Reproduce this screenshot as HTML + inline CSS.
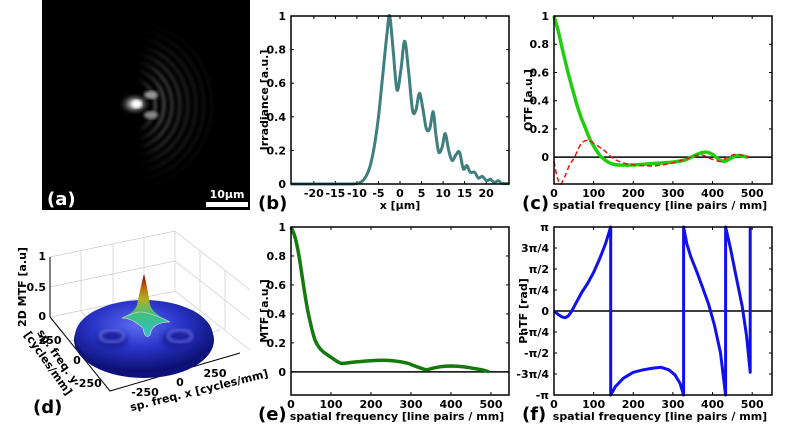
<!DOCTYPE html>
<html><head><meta charset="utf-8">
<style>
html,body{margin:0;padding:0;background:#fff;}
svg{display:block;font-family:"DejaVu Sans","Liberation Sans",sans-serif;font-weight:bold;}
</style></head>
<body>
<svg id="fig" width="800" height="427" viewBox="0 0 800 427" xmlns="http://www.w3.org/2000/svg">
<defs>
  <radialGradient id="spot" cx="50%" cy="50%" r="50%">
    <stop offset="0" stop-color="#fff" stop-opacity="1"/>
    <stop offset="0.35" stop-color="#ccc" stop-opacity="0.7"/>
    <stop offset="1" stop-color="#000" stop-opacity="0"/>
  </radialGradient>
  <filter id="blur1"><feGaussianBlur stdDeviation="1.6"/></filter>
  <filter id="blur2"><feGaussianBlur stdDeviation="2.5"/></filter>
  <radialGradient id="ringfade" gradientUnits="userSpaceOnUse" cx="170" cy="105" r="90" fx="170" fy="105" gradientTransform="translate(170,105) scale(0.8,1) translate(-170,-105)">
    <stop offset="0" stop-color="#fff"/>
    <stop offset="0.55" stop-color="#fff"/>
    <stop offset="1" stop-color="#000"/>
  </radialGradient>
  <linearGradient id="leftfade" gradientUnits="userSpaceOnUse" x1="138" y1="0" x2="162" y2="0">
    <stop offset="0" stop-color="#000"/>
    <stop offset="1" stop-color="#fff"/>
  </linearGradient>
  <mask id="ringmask1"><rect x="42" y="0" width="208" height="210" fill="url(#ringfade)"/></mask>
  <mask id="ringmask2"><rect x="42" y="0" width="208" height="210" fill="url(#leftfade)"/></mask>
  <radialGradient id="diskg" cx="45%" cy="35%" r="65%">
    <stop offset="0" stop-color="#5a6cf0"/>
    <stop offset="0.5" stop-color="#2a34c8"/>
    <stop offset="1" stop-color="#0a0f70"/>
  </radialGradient>
  <linearGradient id="peakg" x1="0" y1="1" x2="0" y2="0">
    <stop offset="0" stop-color="#30c0d0"/>
    <stop offset="0.35" stop-color="#40c080"/>
    <stop offset="0.6" stop-color="#b0b020"/>
    <stop offset="0.8" stop-color="#c06010"/>
    <stop offset="1" stop-color="#700000"/>
  </linearGradient>
</defs>

<!-- Panel (a) -->
<g>
  <rect x="42" y="0" width="208" height="210" fill="#000"/>
  <g mask="url(#ringmask2)"><g mask="url(#ringmask1)">
  <g filter="url(#blur1)">
    <circle cx="128" cy="105" r="27" fill="none" stroke="#bbb" stroke-width="3" stroke-opacity="0.6"/>
    <circle cx="128" cy="105" r="36" fill="none" stroke="#999" stroke-width="3" stroke-opacity="0.5"/>
    <circle cx="128" cy="105" r="44" fill="none" stroke="#888" stroke-width="3" stroke-opacity="0.45"/>
    <circle cx="128" cy="105" r="52" fill="none" stroke="#777" stroke-width="3" stroke-opacity="0.38"/>
    <circle cx="128" cy="105" r="60" fill="none" stroke="#666" stroke-width="3" stroke-opacity="0.32"/>
    <circle cx="128" cy="105" r="68" fill="none" stroke="#555" stroke-width="3" stroke-opacity="0.28"/>
    <circle cx="128" cy="105" r="76" fill="none" stroke="#444" stroke-width="3" stroke-opacity="0.24"/>
    <circle cx="128" cy="105" r="84" fill="none" stroke="#333" stroke-width="3" stroke-opacity="0.2"/>
  </g></g></g>
  <ellipse cx="151" cy="95" rx="7" ry="4" fill="#999" filter="url(#blur1)"/>
  <ellipse cx="151" cy="115" rx="7" ry="4" fill="#888" filter="url(#blur1)"/>
  <ellipse cx="135" cy="104" rx="17" ry="12" fill="url(#spot)"/>
  <ellipse cx="137" cy="104" rx="5" ry="4" fill="#fff" filter="url(#blur1)"/>
  <rect x="206" y="202" width="42" height="5" fill="#fff"/>
  <text x="227" y="198" font-size="11" fill="#fff" text-anchor="middle">10μm</text>
  <text x="47" y="205" font-size="18" fill="#fff">(a)</text>
</g>

<!-- Panel (d) 3D -->
<g>
  <g stroke="#ccc" stroke-width="0.7" fill="none">
    <polyline points="50,257 175,231 250,290"/>
    <polyline points="50,317 175,291 250,350"/>
    <line x1="175" y1="231" x2="175" y2="291"/>
    <line x1="81" y1="251" x2="81" y2="311"/>
    <line x1="113" y1="244" x2="113" y2="304"/>
    <line x1="144" y1="237" x2="144" y2="297"/>
    <line x1="200" y1="251" x2="200" y2="311"/>
    <line x1="225" y1="270" x2="225" y2="330"/>
    <polyline points="50,287 175,261 250,320"/>
    <line x1="81" y1="311" x2="140" y2="383"/>
    <line x1="113" y1="304" x2="172" y2="373"/>
    <line x1="144" y1="297" x2="205" y2="363"/>
    <line x1="70" y1="341" x2="195" y2="310"/>
    <line x1="90" y1="366" x2="220" y2="330"/>
  </g>
  <line x1="50" y1="257" x2="50" y2="317" stroke="#000" stroke-width="1"/>
  <polyline points="50,317 110,391 240,353" fill="none" stroke="#000" stroke-width="1"/>
  <ellipse cx="144" cy="340" rx="70" ry="38" fill="#0c127a"/>
  <ellipse cx="144" cy="336" rx="69" ry="36" fill="url(#diskg)"/>
  <ellipse cx="112" cy="340" rx="16" ry="10" fill="#1a20a0" filter="url(#blur2)"/>
  <ellipse cx="178" cy="340" rx="16" ry="10" fill="#1a20a0" filter="url(#blur2)"/>
  <ellipse cx="112" cy="336" rx="12" ry="6" fill="none" stroke="#8a96ff" stroke-width="1.5" filter="url(#blur1)"/>
  <ellipse cx="180" cy="336" rx="12" ry="6" fill="none" stroke="#8a96ff" stroke-width="1.5" filter="url(#blur1)"/>
  <path d="M122,318 Q135,312 137,305 Q141,285 144,274 Q147,285 150,305 Q153,314 170,322 Q152,322 150,335 Q145,340 143,328 Q132,318 122,318 Z" fill="url(#peakg)"/>
  <path d="M122,318 Q135,312 140,312 Q150,312 170,322 Q152,322 150,335 Q145,340 143,328 Q132,318 122,318 Z" fill="none" stroke="#ccc" stroke-width="0.8"/>
  <text x="46" y="260" font-size="11" text-anchor="end">1</text>
  <text x="46" y="291" font-size="11" text-anchor="end">0.5</text>
  <text x="46" y="320" font-size="11" text-anchor="end">0</text>
  <text transform="translate(26,287) rotate(-90)" font-size="11" text-anchor="middle">2D MTF [a.u]</text>
  <text x="50" y="344" font-size="11" text-anchor="middle">250</text>
  <text x="77" y="364" font-size="11" text-anchor="middle">0</text>
  <text x="88" y="387" font-size="11" text-anchor="middle">-250</text>
  <text transform="translate(50,362) rotate(55)" font-size="11" text-anchor="middle"><tspan x="0" dy="-6">sp. freq. y</tspan><tspan x="0" dy="12">[cycles/mm]</tspan></text>
  <text x="145" y="396" font-size="11" text-anchor="middle">-250</text>
  <text x="180" y="386" font-size="11" text-anchor="middle">0</text>
  <text x="215" y="377" font-size="11" text-anchor="middle">250</text>
  <text transform="translate(200,394) rotate(-14)" font-size="11" text-anchor="middle">sp. freq. x [cycles/mm]</text>
  <text x="33" y="413" font-size="18">(d)</text>
</g>

<g id="plots"></g>
</svg>

<script>
// ---- Panel (b) irradiance ----
const irrX = [-25.3,-12,-10,-9,-8,-7,-6,-5,-4,-3,-2.4,-1.6,-0.7,0.2,1.1,2.0,2.9,3.7,4.5,5.3,6.1,6.9,7.7,8.3,9.0,9.8,10.5,11.3,12.1,12.9,13.8,14.7,15.5,16.3,17.3,18.2,19.1,20.1,21.0,21.9,22.8,23.6,25.3];
const irrY = [0,0,0.003,0.012,0.04,0.1,0.22,0.4,0.65,0.9,1.0,0.8,0.56,0.68,0.85,0.67,0.44,0.44,0.54,0.45,0.33,0.33,0.43,0.3,0.19,0.22,0.3,0.2,0.14,0.17,0.19,0.09,0.11,0.07,0.07,0.035,0.045,0.02,0.028,0.008,0.02,0.004,0.002];
const irrXTicks = [-20,-15,-10,-5,0,5,10,15,20];
const irrYTicks = [0,0.2,0.4,0.6,0.8,1];
// ---- Panel (c) OTF ----
const otfX = [0,10,20,30,40,50,60,70,80,90,100,110,120,140,160,200,250,300,330,350,370,385,400,415,430,445,460,475,490];
const otfRe = [1,0.9,0.78,0.66,0.55,0.45,0.35,0.27,0.2,0.13,0.08,0.035,0,-0.04,-0.055,-0.055,-0.045,-0.035,-0.02,0.005,0.03,0.035,0.02,-0.015,-0.03,-0.01,0.01,0.008,0];
const otfImX = [0,7,15,22,30,40,50,60,70,85,100,115,130,150,180,220,260,300,330,355,375,390,405,420,435,450,465,480,490];
const otfIm = [-0.03,-0.13,-0.19,-0.17,-0.12,-0.05,-0.01,0.05,0.1,0.12,0.1,0.07,0.04,-0.01,-0.045,-0.06,-0.06,-0.04,-0.015,0.01,0.015,-0.005,-0.02,-0.03,-0.005,0.015,0.02,0.01,0];
const otfXTicks = [0,100,200,300,400,500];
const otfYTicks = [0,0.2,0.4,0.6,0.8,1];
// ---- Panel (e) MTF ----
const mtfX = [0,10,20,30,40,50,60,70,80,100,120,130,160,200,230,260,290,310,330,340,355,375,400,430,460,480,495];
const mtfY = [1,0.93,0.8,0.62,0.45,0.32,0.22,0.17,0.14,0.1,0.065,0.058,0.068,0.077,0.08,0.075,0.06,0.04,0.02,0.015,0.025,0.036,0.04,0.035,0.022,0.012,0];
const mtfXTicks = [0,100,200,300,400,500];
const mtfYTicks = [0,0.2,0.4,0.6,0.8,1];
// ---- Panel (f) PhTF (units of pi) ----
const phX = [0,10,20,28,36,45,55,70,85,100,115,130,143,143,155,175,200,225,250,270,290,305,318,327,327,335,345,360,375,390,405,420,433,433,445,460,475,486,495,495];
const phY = [0,-0.04,-0.07,-0.08,-0.06,0,0.09,0.22,0.33,0.46,0.62,0.8,1,-1,-0.9,-0.8,-0.73,-0.7,-0.68,-0.67,-0.7,-0.76,-0.86,-1,1,0.8,0.65,0.47,0.28,0.08,-0.17,-0.5,-1,1,0.75,0.4,0.05,-0.3,-0.73,1];
const phXTicks = [0,100,200,300,400,500];
const phYTicks = [-1,-0.75,-0.5,-0.25,0,0.25,0.5,0.75,1];
const phYLabels = ["-π","-3π/4","-π/2","-π/4","0","π/4","π/2","3π/4","π"];

const NS = "http://www.w3.org/2000/svg";
const root = document.getElementById('plots');
function mk(tag, attrs, parent){
  const e = document.createElementNS(NS, tag);
  for (const k in attrs) e.setAttribute(k, attrs[k]);
  (parent||root).appendChild(e);
  return e;
}
function smoothPath(pts){
  let d = "M" + pts[0][0].toFixed(1) + "," + pts[0][1].toFixed(1);
  for (let i=0;i<pts.length-1;i++){
    const p0 = pts[Math.max(0,i-1)], p1 = pts[i], p2 = pts[i+1], p3 = pts[Math.min(pts.length-1,i+2)];
    const c1x = p1[0] + (p2[0]-p0[0])/6, c1y = p1[1] + (p2[1]-p0[1])/6;
    const c2x = p2[0] - (p3[0]-p1[0])/6, c2y = p2[1] - (p3[1]-p1[1])/6;
    d += " C" + c1x.toFixed(1)+","+c1y.toFixed(1)+" "+c2x.toFixed(1)+","+c2y.toFixed(1)+" "+p2[0].toFixed(1)+","+p2[1].toFixed(1);
  }
  return d;
}
function axes(cfg){
  const g = mk('g', {});
  
  
  const sx = v => cfg.x0 + (v - cfg.xmin)/(cfg.xmax - cfg.xmin)*(cfg.x1 - cfg.x0);
  const sy = v => cfg.y1 - (v - cfg.ymin)/(cfg.ymax - cfg.ymin)*(cfg.y1 - cfg.y0);
  cfg.xticks.forEach((t,i) => {
    const tx = mk('text', {x: sx(t), y: cfg.y1+13, 'font-size': 11, 'text-anchor':'middle'}, g);
    tx.textContent = t;
    
    
    mk('line', {x1:sx(t), x2:sx(t), y1:cfg.y1, y2:cfg.y1-3, stroke:'#000', 'stroke-width':1}, g);
    mk('line', {x1:sx(t), x2:sx(t), y1:cfg.y0, y2:cfg.y0+3, stroke:'#000', 'stroke-width':1}, g);
  });
  cfg.yticks.forEach((t,i) => {
    const ty = mk('text', {x: cfg.x0-5, y: sy(t)+4, 'font-size': 11, 'text-anchor':'end'}, g);
    ty.textContent = cfg.ylabels ? cfg.ylabels[i] : t;
    
    
    mk('line', {x1:cfg.x0, x2:cfg.x0+3, y1:sy(t), y2:sy(t), stroke:'#000', 'stroke-width':1}, g);
    mk('line', {x1:cfg.x1, x2:cfg.x1-3, y1:sy(t), y2:sy(t), stroke:'#000', 'stroke-width':1}, g);
  });
  const xl = mk('text', {x: cfg.xlx, y: cfg.y1+25, 'font-size': 11, 'text-anchor':'middle'}, g);
  xl.textContent = cfg.xlabel;
  
  
  const yl = mk('text', {transform:'translate('+cfg.ylx+','+((cfg.y0+cfg.y1)/2)+') rotate(-90)', 'font-size': 11, 'text-anchor':'middle'}, g);
  yl.textContent = cfg.ylabel;
  
  
  const pl = mk('text', {x: cfg.plx, y: cfg.y1+25, 'font-size': 18}, g);
  pl.textContent = cfg.panel;
  
  
  if (cfg.zero){
    const z = mk('line', {x1:cfg.x0, x2:cfg.x1, y1:sy(0), y2:sy(0), stroke:'#000', 'stroke-width':1.5}, g);
    
    
  }
  return {g, sx, sy, cfg};
}
function frame(a){
  const c = a.cfg;
  const r = mk('rect', {x:c.x0, y:c.y0, width:c.x1-c.x0, height:c.y1-c.y0, fill:'none', stroke:'#000', 'stroke-width':1.5}, a.g);
  
  
}
function curve(a, xs, ys, style, name, smooth){
  const pts = xs.map((x,i) => [a.sx(x), a.sy(ys[i])]);
  const d = smooth ? smoothPath(pts) : "M" + pts.map(p => p[0].toFixed(1)+","+p[1].toFixed(1)).join(" L");
  const p = mk('path', Object.assign({d, fill:'none', 'stroke-linejoin':'round'}, style), a.g);
  
  
}

// (b)
const ab = axes({name:'panel-b-irradiance-plot', x0:291, x1:509, y0:16, y1:184, xmin:-25.3, xmax:25.3, ymin:0, ymax:1,
  xticks:irrXTicks, yticks:irrYTicks, xlabel:'x [μm]', ylabel:'Irradiance [a.u.]', xlx:400, ylx:268, plx:258, panel:'(b)'});
curve(ab, irrX, irrY, {stroke:'#3f7f7f', 'stroke-width':3}, 'irradiance-line', true);
frame(ab);

// (c)
const ac = axes({name:'panel-c-otf-plot', x0:554, x1:772, y0:16, y1:184, xmin:0, xmax:550, ymin:-0.19, ymax:1,
  xticks:otfXTicks, yticks:otfYTicks, xlabel:'spatial frequency [line pairs / mm]', ylabel:'OTF [a.u.]', xlx:660, ylx:532, plx:522, panel:'(c)', zero:true});
curve(ac, otfX, otfRe, {stroke:'#22cc11', 'stroke-width':3.5}, 'otf-real-line', true);
curve(ac, otfImX, otfIm, {stroke:'#ee1111', 'stroke-width':1.5, 'stroke-dasharray':'5,3'}, 'otf-imag-line', true);
frame(ac);

// (e)
const ae = axes({name:'panel-e-mtf-plot', x0:291, x1:509, y0:227, y1:395, xmin:0, xmax:545, ymin:-0.16, ymax:1,
  xticks:mtfXTicks, yticks:mtfYTicks, xlabel:'spatial frequency [line pairs / mm]', ylabel:'MTF [a.u.]', xlx:397, ylx:268, plx:258, panel:'(e)', zero:true});
curve(ae, mtfX, mtfY, {stroke:'#147a0e', 'stroke-width':3.5}, 'mtf-line', true);
frame(ae);

// (f)
const af = axes({name:'panel-f-phtf-plot', x0:554, x1:772, y0:227, y1:395, xmin:0, xmax:550, ymin:-1, ymax:1,
  xticks:phXTicks, yticks:phYTicks, ylabels:phYLabels, xlabel:'spatial frequency [line pairs / mm]', ylabel:'PhTF [rad]', xlx:660, ylx:527, plx:522, panel:'(f)', zero:true});
curve(af, phX, phY, {stroke:'#1010ee', 'stroke-width':3}, 'phtf-line', false);
frame(af);
</script>
</body></html>
